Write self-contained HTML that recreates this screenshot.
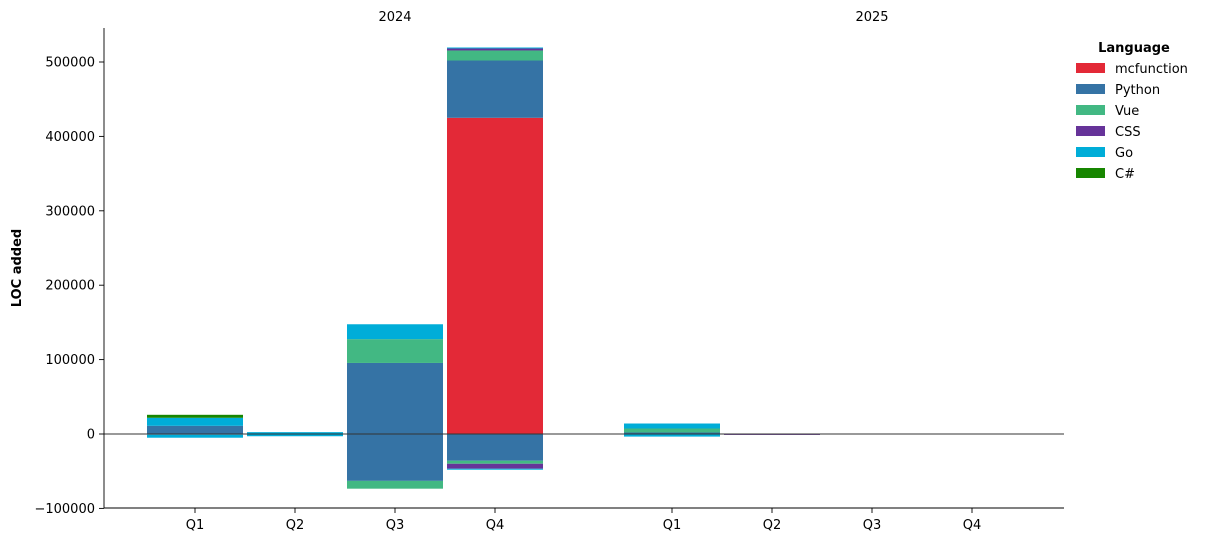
<!DOCTYPE html>
<html><head><meta charset="utf-8"><style>
body{margin:0;background:#fff;font-family:"Liberation Sans","DejaVu Sans",sans-serif;}
svg text{font-family:"DejaVu Sans","Liberation Sans",sans-serif;font-size:13px;fill:#000}
</style></head><body>
<svg id="chart" width="1208" height="542" viewBox="0 0 1208 542" xmlns="http://www.w3.org/2000/svg">
<g id="bars"></g>
<g id="axes"></g>
<g id="legend"></g>
</svg>
<script>
const years = ["2024","2025"];
const quarters = ["Q1","Q2","Q3","Q4"];
const languages = ["mcfunction","Python","Vue","CSS","Go","C#"];
const colors = ["#e32937","#3573a5","#42b883","#663399","#00add8","#178600"];
// positive values per language, 8 periods (2024 Q1..Q4, 2025 Q1..Q4)
const posMcfunction = [0,0,0,425000,0,0,0,0];
const posPython = [11000,0,95500,77000,2000,0,0,0];
const posVue = [0,0,32000,13500,5400,0,0,0];
const posCSS = [0,0,0,2700,0,0,0,0];
const posGo = [10800,2500,20000,1300,6700,0,0,0];
const posCSharp = [4000,0,0,0,0,0,0,0];
// negative values (lines removed)
const negMcfunction = [0,0,0,0,0,0,0,0];
const negPython = [-1000,0,-63000,-36000,0,0,0,0];
const negVue = [0,0,-10500,-4000,0,0,0,0];
const negCSS = [0,0,0,-6700,0,1200,0,0];
const negGo = [-4000,-3000,0,-1300,-3500,0,0,0];
const negCSharp = [0,0,0,0,0,0,0,0];
const yTicks = [-100000,0,100000,200000,300000,400000,500000];

const pos=[posMcfunction,posPython,posVue,posCSS,posGo,posCSharp];
const neg=[negMcfunction,negPython,negVue,negCSS,negGo,negCSharp];
const NS="http://www.w3.org/2000/svg";
const y0=434, k=372/500000;
const Y=v=>y0-v*k;
const centers=[195,295,395,495,672,772,872,972];
const X=i=>centers[i];
const bw=96;
function mk(tag,attrs,parent){const e=document.createElementNS(NS,tag);for(const a in attrs)e.setAttribute(a,attrs[a]);parent.appendChild(e);return e;}
const gb=document.getElementById('bars'),ga=document.getElementById('axes'),gl=document.getElementById('legend');
for(let i=0;i<8;i++){
  let up=0,dn=0;
  for(let l=0;l<languages.length;l++){
    const p=pos[l][i];
    if(p>0){const r=mk('rect',{x:X(i)-bw/2,y:Y(up+p),width:bw,height:p*k,fill:colors[l]},gb);
      
      up+=p;}
    const n=neg[l][i];
    if(n!==0){const m=-Math.abs(n);const r=mk('rect',{x:X(i)-bw/2,y:Y(dn),width:bw,height:-m*k,fill:colors[l]},gb);
      
      dn+=m;}
  }
}
// zero line
let zl=mk('line',{x1:104,x2:1064,y1:Y(0),y2:Y(0),stroke:'#333','stroke-width':0.9},ga);


// axes spines
let sp=mk('line',{x1:104,x2:104,y1:28,y2:508,stroke:'#000','stroke-width':0.9},ga);


let sb=mk('line',{x1:104,x2:1064,y1:508,y2:508,stroke:'#000','stroke-width':0.9},ga);


yTicks.forEach(t=>{
  const y=Y(t);
  const tk=mk('line',{x1:99,x2:104,y1:y,y2:y,stroke:'#000','stroke-width':0.9},ga);
  
  
  const tx=mk('text',{x:95,y:y+4.5,'text-anchor':'end'},ga);
  tx.textContent=(t<0?'\u2212'+(-t):String(t));
  
  
});
for(let i=0;i<8;i++){
  const tk=mk('line',{x1:X(i),x2:X(i),y1:508,y2:513,stroke:'#000','stroke-width':0.9},ga);
  
  
  const tx=mk('text',{x:X(i),y:529,'text-anchor':'middle'},ga);
  tx.textContent=quarters[i%4];
  
  
}
years.forEach((yr,j)=>{
  const tx=mk('text',{x:j?872:395,y:21,'text-anchor':'middle'},ga);
  tx.textContent=yr;
  
  
});
let yt=mk('text',{x:21,y:268,'text-anchor':'middle','font-weight':'bold',transform:'rotate(-90 21 268)'},ga);
yt.textContent='LOC added';


let lt=mk('text',{x:1134,y:52,'text-anchor':'middle','font-weight':'bold'},gl);
lt.textContent='Language';


languages.forEach((l,i)=>{
  const y=68+i*21;
  const r=mk('rect',{x:1076,y:y-5,width:29,height:10,fill:colors[i]},gl);
  
  
  const t=mk('text',{x:1115,y:y+5},gl);
  t.textContent=l;
  
  
});
</script>
</body></html>
